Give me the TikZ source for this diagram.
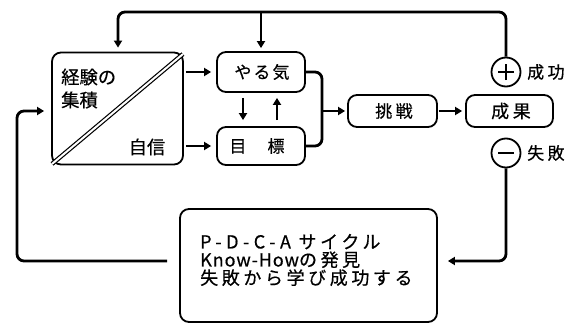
\documentclass[tikz,border=0pt]{standalone}
\usepackage{fontspec}
\setmainfont{Noto Sans CJK JP}
\newfontfamily\jpn[FakeBold=0.5]{Noto Sans CJK JP}
\newfontfamily\jp[LetterSpace=12,FakeBold=0.5]{Noto Sans CJK JP}
\newfontfamily\jpw[LetterSpace=20,FakeBold=0.5]{Noto Sans CJK JP}
\newfontfamily\lat[LetterSpace=5,FakeBold=0.5]{Noto Sans CJK JP}
\newfontfamily\latw[LetterSpace=25,FakeBold=0.5]{Noto Sans CJK JP}
\usetikzlibrary{arrows.meta,calc}
\begin{document}
\begin{tikzpicture}[x=1pt,y=-1pt,
  box/.style={draw,line width=1.8pt,rounded corners=9pt,inner sep=0pt},
  conn/.style={line width=2.8pt,rounded corners=7pt},
  arr/.style={conn,-{Triangle[length=7pt,width=8pt]}},
  txt/.style={font=\jp\fontsize{17}{19}\selectfont,inner sep=0pt},
  circ/.style={draw,circle,line width=1.8pt,minimum size=29pt,inner sep=0pt}]
\useasboundingbox (0,0) rectangle (579,324);

% nodes
\node[box,minimum width=131pt,minimum height=112pt] (kb) at (117.5,108.5) {};
\node[txt,anchor=west,align=left,font=\jpn\fontsize{18.3}{23}\selectfont] (t1) at (61,88.5) {経験の\\集積};
\node[txt,anchor=center,font=\jpn\fontsize{18.3}{19}\selectfont] (t2) at (147,147) {自信};
\node[box,minimum width=88pt,minimum height=40pt] (yaru) at (261,72) {};
\node[txt] (t3) at (262,72) {やる気};
\node[box,minimum width=88pt,minimum height=38pt] (moku) at (261,146) {};
\node[txt] (t4) at (257,146) {目　標};
\node[box,minimum width=89pt,minimum height=32pt] (chou) at (392.5,111) {};
\node[txt,font=\jpw\fontsize{17}{19}\selectfont] (t5) at (394,111) {挑戦};
\node[box,minimum width=87pt,minimum height=32pt] (sei) at (509.5,111) {};
\node[txt,font=\jpw\fontsize{18}{19}\selectfont] (t6) at (511,111) {成果};
\node[circ] (plus) at (506,72) {};
\node[circ] (minus) at (506,153) {};
\node[txt,anchor=west,font=\jpw\fontsize{17}{19}\selectfont] (l1) at (527,72) {成功};
\node[txt,anchor=west,font=\jpw\fontsize{17}{19}\selectfont] (l2) at (527,153) {失敗};
\node[box,minimum width=257pt,minimum height=113pt] (pdca) at (308.5,265.5) {};
\node[txt,anchor=west,align=left,font=\jpw\fontsize{18}{18}\selectfont] (t7) at (200,260) {{\latw P-D-C-A} サイクル\\{\lat Know-How}の発見\\失敗から学び成功する};

% plus / minus signs
\draw[line width=1.8pt] ([xshift=-8pt]plus.center) -- ([xshift=8pt]plus.center);
\draw[line width=1.8pt] ([yshift=-8pt]plus.center) -- ([yshift=8pt]plus.center);
\draw[line width=1.8pt] ([xshift=-8pt]minus.center) -- ([xshift=8pt]minus.center);

% diagonal double line
\draw[double,double distance=2pt,line width=1.2pt] ([shift={(1,-1.5)}]kb.south west) -- ([shift={(-1,2.5)}]kb.north east);

% coordinates
\coordinate (tr) at (506,12);
\coordinate (tl) at (118,12);
\coordinate (br) at (322,111);
\coordinate (rb) at (506,261);
\coordinate (lb) at (17,261);
\coordinate (lt) at (17,111);

% connectors
\draw[arr,shorten >=4pt] (plus.north) -- (tr) -- (tl) -- (kb.north -| tl);
\draw[arr,shorten >=3pt] (yaru.north |- tl) -- (yaru.north);
\draw[arr,shorten <=2pt,shorten >=5pt] (kb.east |- yaru.west) -- (yaru.west);
\draw[arr,shorten <=2pt,shorten >=5pt] (kb.east |- moku.west) -- (moku.west);
\draw[arr,shorten <=5pt,shorten >=6pt] ([xshift=-18pt]yaru.south) -- ([xshift=-18pt]moku.north);
\draw[arr,shorten <=6pt,shorten >=5pt] ([xshift=16pt]moku.north) -- ([xshift=16pt]yaru.south);
\draw[conn] (yaru.east) -- (yaru.east -| br) -- (moku.east -| br) -- (moku.east);
\draw[arr,shorten >=2pt] (br) -- (chou.west);
\draw[arr,shorten <=1pt,shorten >=3pt] (chou.east) -- (sei.west);
\draw[arr,shorten >=10pt] (minus.south) -- (rb) -- (pdca.east |- rb);
\draw[arr,shorten <=12pt,shorten >=7pt] (pdca.west |- lb) -- (lb) -- (lt) -- (kb.west |- lt);
\end{tikzpicture}
\end{document}
